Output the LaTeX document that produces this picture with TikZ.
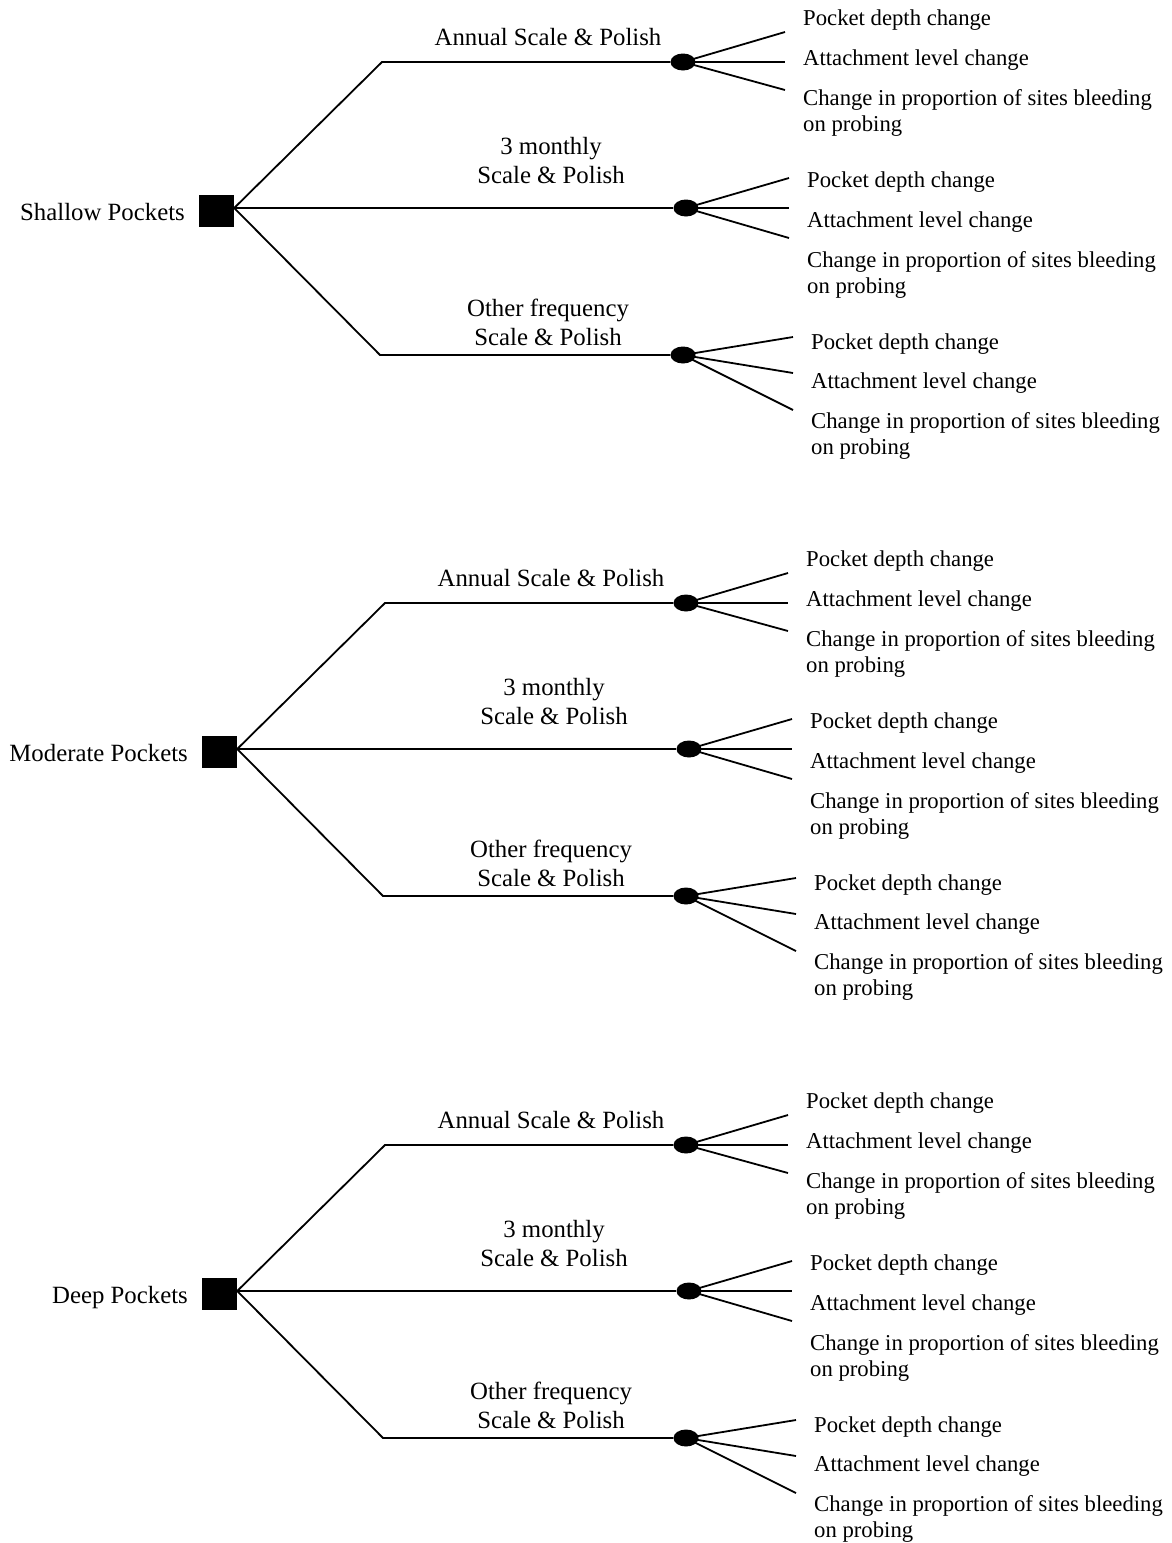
\documentclass[tikz,border=0pt]{standalone}
\usepackage{fontspec}
\setmainfont{Liberation Serif}
\usetikzlibrary{shapes.geometric}
\tikzset{
  dec/.style={fill=black, draw=none, minimum width=35pt, minimum height=32pt, inner sep=0pt},
  chance/.style={ellipse, fill=black, draw=none, minimum width=25pt, minimum height=17pt, inner sep=0pt},
  ln/.style={line width=1.8pt, black},
  bigtxt/.style={inner sep=0pt, font=\fontsize{24.8}{29}\selectfont},
  outtxt/.style={inner sep=0pt, font=\fontsize{22.7}{26}\selectfont, anchor=base west, align=left},
}
% note: for multi-line nodes the base anchor is the baseline of the last line
\newcommand\mytreeblock[4]{%
\begin{scope}[shift={(#2,#3)}]
  \node[dec] (#1sq) at (216.5,211) {};
  \node[bigtxt, anchor=base east] (#1lab) at (185,220) {#4};
  % branch elbows and chance nodes
  \coordinate (#1ea) at (382,62);
  \coordinate (#1ec) at (380,355);
  \node[chance] (#1ca) at (683,62) {};
  \node[chance] (#1cb) at (686,208) {};
  \node[chance] (#1cc) at (683,355) {};
  \draw[ln] ([yshift=3pt]#1sq.east) -- (#1ea) -- (#1ca);
  \draw[ln] ([yshift=3pt]#1sq.east) -- (#1cb);
  \draw[ln] ([yshift=3pt]#1sq.east) -- (#1ec) -- (#1cc);
  % branch labels
  \node[bigtxt, anchor=base] (#1la) at (548,45) {Annual Scale \& Polish};
  \node[bigtxt, anchor=base, align=center] (#1lb) at (551,183) {3 monthly\\Scale \& Polish};
  \node[bigtxt, anchor=base, align=center] (#1lc) at (548,345) {Other frequency\\Scale \& Polish};
  % outcome fan ends
  \coordinate (#1a1) at (785,32);
  \coordinate (#1a2) at (785,62);
  \coordinate (#1a3) at (785,90);
  \coordinate (#1b1) at (789,178);
  \coordinate (#1b2) at (789,208);
  \coordinate (#1b3) at (789,238);
  \coordinate (#1c1) at (793,337);
  \coordinate (#1c2) at (793,373);
  \coordinate (#1c3) at (793,410);
  \foreach \k in {a,b,c}{
    \foreach \j in {1,2,3}{
      \draw[ln] (#1c\k.center) -- (#1\k\j);
    }
  }
  % outcome texts
  \node[outtxt] (#1ta1) at (803,25) {Pocket depth change};
  \node[outtxt] (#1ta2) at (803,65) {Attachment level change};
  \node[outtxt] (#1ta3) at (803,131) {Change in proportion of sites bleeding\\on probing};
  \node[outtxt] (#1tb1) at (807,187) {Pocket depth change};
  \node[outtxt] (#1tb2) at (807,227) {Attachment level change};
  \node[outtxt] (#1tb3) at (807,293) {Change in proportion of sites bleeding\\on probing};
  \node[outtxt] (#1tc1) at (811,349) {Pocket depth change};
  \node[outtxt] (#1tc2) at (811,388) {Attachment level change};
  \node[outtxt] (#1tc3) at (811,454) {Change in proportion of sites bleeding\\on probing};
\end{scope}}
\begin{document}
\begin{tikzpicture}[x=1pt, y=-1pt]
  \useasboundingbox (0,0) rectangle (1172,1543);
  \mytreeblock{s}{0}{0}{Shallow Pockets}
  \mytreeblock{m}{3}{541}{Moderate Pockets}
  \mytreeblock{d}{3}{1083}{Deep Pockets}
\end{tikzpicture}
\end{document}
